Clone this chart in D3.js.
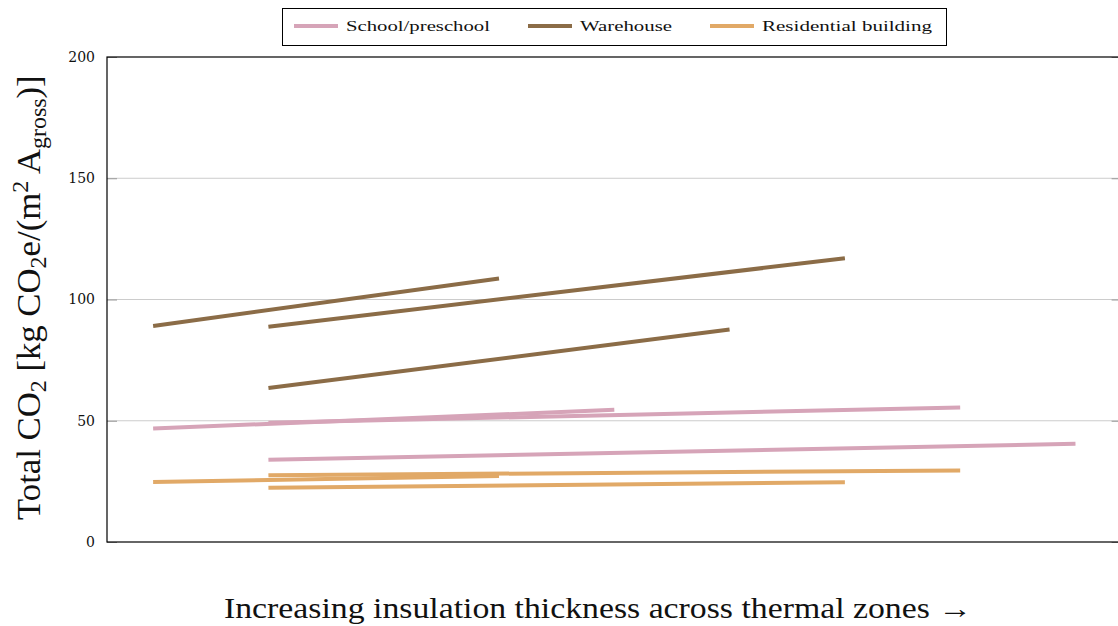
<!DOCTYPE html>
<html>
<head>
<meta charset="utf-8">
<script src="https://cdn.jsdelivr.net/npm/d3@7"></script>
<style>
  body { margin: 0; background: #fff; }
  text { font-family: "Liberation Serif", "DejaVu Serif", serif; fill: #111; }
  .tick-label { font-family: "DejaVu Serif", serif; }
</style>
</head>
<body>
<div class="chart"></div>
<script>
// categories and colours of the series
var categories = ["School/preschool", "Warehouse", "Residential building"];
var colors = ["#d6a4b8", "#8b6c47", "#e1a967"];

// each line: [first zone, last zone] and [value at first zone, value at last zone]
var schoolZones = [[1, 5], [2, 8], [2, 9]];
var schoolValues = [[46.8, 54.5], [49.2, 55.5], [33.9, 40.5]];

var warehouseZones = [[1, 4], [2, 7], [2, 6]];
var warehouseValues = [[89.1, 108.7], [88.8, 117.0], [63.5, 87.6]];

var residentialZones = [[1, 4], [2, 8], [2, 7]];
var residentialValues = [[24.7, 27.2], [27.5, 29.5], [22.4, 24.6]];

var yTicks = [0, 50, 100, 150, 200];

(function drawChart() {
	"use strict";
	var width = 1118, height = 626;
	var left = 107, right = 1121.6, top = 57, bottom = 542;

	var svg = d3.select(".chart")
				.append("svg")
				.attr("width", width)
				.attr("height", height);

	var xScale = d3.scaleLinear().domain([0.6, 9.4]).range([left, right]);
	var yScale = d3.scaleLinear().domain([0, 200]).range([bottom, top]);

	// grid lines
	svg.append("g").selectAll("line")
	   .data(yTicks.filter(function(d) { return d > 0 && d < 200; }))
	   .enter().append("line")
	   .attr("x1", left).attr("x2", right)
	   .attr("y1", function(d) { return yScale(d); })
	   .attr("y2", function(d) { return yScale(d); })
	   .attr("stroke", "#cccccc")
	   .attr("stroke-width", 1);

	// inward tick marks on both sides
	var yAxisL = d3.axisRight(yScale).tickValues(yTicks).tickSize(10).tickFormat("");
	var yAxisR = d3.axisLeft(yScale).tickValues(yTicks).tickSize(10).tickFormat("");
	svg.append("g").attr("transform", "translate(" + left + ",0)").call(yAxisL)
	   .call(function(g) { g.select(".domain").remove(); g.selectAll("line").attr("stroke", "#999"); });
	svg.append("g").attr("transform", "translate(" + right + ",0)").call(yAxisR)
	   .call(function(g) { g.select(".domain").remove(); g.selectAll("line").attr("stroke", "#999"); });

	// tick labels
	svg.append("g").selectAll("text")
	   .data(yTicks)
	   .enter().append("text")
	   .attr("class", "tick-label")
	   .attr("x", 95)
	   .attr("y", function(d) { return yScale(d); })
	   .attr("dy", "0.35em")
	   .attr("text-anchor", "end")
	   .style("font-size", "14px")
	   .text(function(d) { return d; });

	// frame
	svg.append("rect")
	   .attr("x", left).attr("y", top)
	   .attr("width", right - left).attr("height", bottom - top)
	   .attr("fill", "none")
	   .attr("stroke", "#000")
	   .attr("stroke-width", 1.2);

	var line = d3.line()
				 .x(function(d) { return xScale(d[0]); })
				 .y(function(d) { return yScale(d[1]); });

	var groups = [
		[schoolZones, schoolValues],
		[warehouseZones, warehouseValues],
		[residentialZones, residentialValues]
	];

	groups.forEach(function(g, i) {
		var segs = g[0].map(function(z, k) {
			return [[z[0], g[1][k][0]], [z[1], g[1][k][1]]];
		});
		svg.append("g").selectAll("path")
		   .data(segs)
		   .enter().append("path")
		   .attr("d", line)
		   .attr("fill", "none")
		   .attr("stroke", colors[i])
		   .attr("stroke-width", 4);
	});

	// legend
	var legend = svg.append("g");
	legend.append("rect")
		  .attr("x", 282.5).attr("y", 8.5)
		  .attr("width", 664).attr("height", 37)
		  .attr("fill", "#fff")
		  .attr("stroke", "#000")
		  .attr("stroke-width", 1);
	var legX = [294, 528, 710];
	var legW = [144, 92, 170];
	categories.forEach(function(c, i) {
		legend.append("line")
			  .attr("x1", legX[i]).attr("x2", legX[i] + 44)
			  .attr("y1", 26).attr("y2", 26)
			  .attr("stroke", colors[i])
			  .attr("stroke-width", 4);
		legend.append("text")
			  .attr("x", legX[i] + 52)
			  .attr("y", 31)
			  .attr("textLength", legW[i])
			  .attr("lengthAdjust", "spacingAndGlyphs")
			  .style("font-size", "15px")
			  .text(c);
	});

	// x label
	svg.append("text")
	   .attr("x", 224)
	   .attr("y", 618)
	   .attr("textLength", 748)
	   .attr("lengthAdjust", "spacingAndGlyphs")
	   .style("font-size", "29px")
	   .text("Increasing insulation thickness across thermal zones \u2192");

	// y label with sub/superscripts
	var yl = svg.append("text")
				.attr("transform", "translate(40," + 520 + ") rotate(-90)")
				.attr("x", 0).attr("y", 0)
				.style("font-size", "29px");
	yl.append("tspan").text("Total CO");
	yl.append("tspan").attr("dy", 6).style("font-size", "20px").text("2");
	yl.append("tspan").attr("dy", -6).text(" [kg CO");
	yl.append("tspan").attr("dy", 6).style("font-size", "20px").text("2");
	yl.append("tspan").attr("dy", -6).text("e/(m");
	yl.append("tspan").attr("dy", -12).style("font-size", "20px").text("2");
	yl.append("tspan").attr("dy", 12).text(" A");
	yl.append("tspan").attr("dy", 6).style("font-size", "20px").text("gross");
	yl.append("tspan").attr("dy", -6).text(")]");

	// squeeze to the reference length
	var w = yl.node().getComputedTextLength();
	var target = 445;
	yl.style("font-size", (29 * target / w) + "px");
	yl.selectAll("tspan").each(function() {
		var fs = parseFloat(this.style.fontSize);
		if (fs) d3.select(this).style("font-size", (fs * target / w) + "px");
	});
}());
</script>
</body>
</html>
